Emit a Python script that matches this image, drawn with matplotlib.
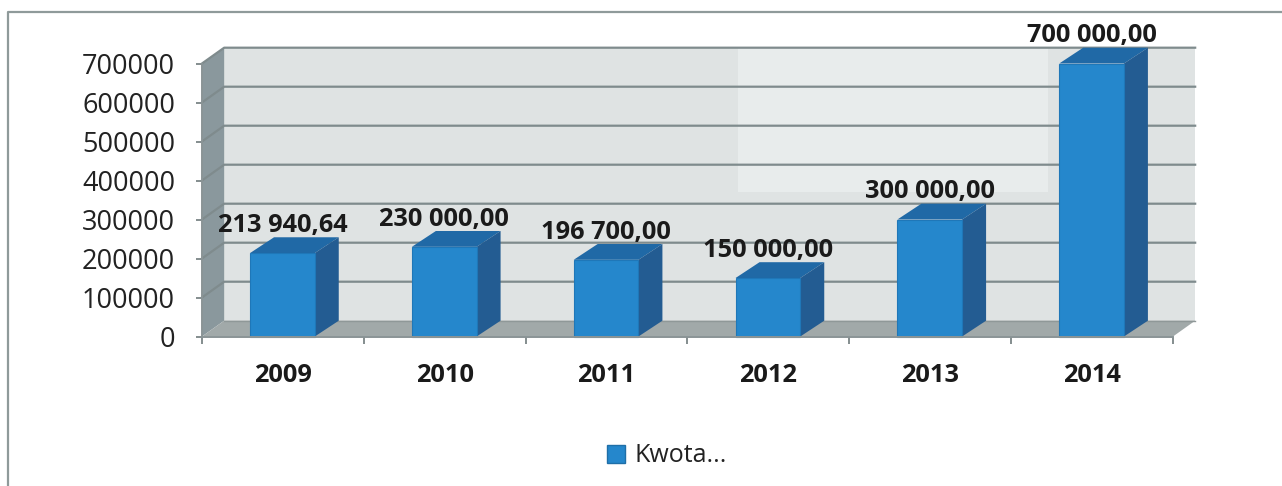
import matplotlib
matplotlib.use("Agg")
from matplotlib import pyplot as plt
from matplotlib.lines import Line2D
from matplotlib.patches import Patch, Polygon, Rectangle

years = ["2009", "2010", "2011", "2012", "2013", "2014"]
kwota = [213940.64, 230000, 196700, 150000, 300000, 700000]
bar_labels = ["213 940,64", "230 000,00", "196 700,00", "150 000,00", "300 000,00", "700 000,00"]
y_ticks = [0, 100000, 200000, 300000, 400000, 500000, 600000, 700000]
series_name = "Kwota..."

plt.rcParams["font.family"] = ["Open Sans", "DejaVu Sans"]

W, H = 1282, 486
fig = plt.figure(figsize=(W / 100, H / 100), dpi=100)
ax = fig.add_axes([202 / W, (H - 336.5) / H, 971 / W, 273 / H])
ax.set_xlim(0, 6)
ax.set_ylim(0, 700000)
ax.patch.set_visible(False)

# depth of the fake 3d box, in data units
dx = 0.137
dy = 40500
bar_w = 0.40
bar_dx = 0.148

GRID = "#7f8b8d"
WALL = "#dfe3e3"
SIDE = "#8a989d"
FLOOR = "#a1a9a9"
FRONT = "#2587cc"
TOP = "#2069a6"
RIGHT = "#235c92"


def poly(pts, color, z):
    ax.add_patch(Polygon(pts, closed=True, fc=color, ec="none", zorder=z, clip_on=False))


top = y_ticks[-1]
poly([(dx, dy), (6 + dx, dy), (6 + dx, top + dy), (dx, top + dy)], WALL, 1)
poly([(0, 0), (dx, dy), (dx, top + dy), (0, top)], SIDE, 1)
poly([(0, 0), (6, 0), (6 + dx, dy), (dx, dy)], FLOOR, 3)

# lighter patch on the back wall
ax.add_patch(Rectangle((3.31, 370000), 1.915, 370500, fc="#e8ecec", ec="none", zorder=1.5, clip_on=False))

for v in y_ticks[1:]:
    ax.plot([0, dx, 6 + dx], [v, v + dy, v + dy], color=GRID, lw=1.6, zorder=2, clip_on=False)
ax.plot([dx, 6 + dx], [dy, dy], color="#8f9898", lw=1.0, zorder=3, clip_on=False)

centers = [i + 0.497 for i in range(len(years))]
ax.bar(centers, kwota, width=bar_w, color=FRONT, edgecolor="#1f77b8", linewidth=0.8, zorder=5, clip_on=False)
for c, v, lab in zip(centers, kwota, bar_labels):
    left = c - bar_w / 2
    right = c + bar_w / 2
    poly([(left, v), (right, v), (right + bar_dx, v + dy), (left + bar_dx, v + dy)], TOP, 4.5)
    poly([(right, 0), (right + bar_dx, dy), (right + bar_dx, v + dy), (right, v)], RIGHT, 4.5)
    ax.annotate(lab, (c, v), xytext=(0, 20), textcoords="offset points", ha="center", va="center",
                fontsize=18.3, fontweight="bold", color="#1a1a1a", zorder=8, annotation_clip=False)

for s in ["top", "right"]:
    ax.spines[s].set_visible(False)
for s in ["left", "bottom"]:
    ax.spines[s].set_color("#8a9496")
    ax.spines[s].set_linewidth(1.4)
    ax.spines[s].set_zorder(6)

ax.set_yticks(y_ticks)
ax.set_yticklabels([str(v) for v in y_ticks], fontsize=19.5, color="#222222")
ax.tick_params(axis="y", length=4.5, width=1.2, color="#6f7a7c", pad=15)
ax.set_xticks(range(7))
ax.set_xticklabels([])
ax.tick_params(axis="x", which="major", length=5, width=1.2, color="#6f7a7c")
ax.set_xticks([i + 0.5 for i in range(6)], minor=True)
ax.set_xticklabels(years, minor=True, fontsize=18.3, fontweight="bold", color="#1a1a1a")
ax.tick_params(axis="x", which="minor", length=0, pad=19)

handle = Patch(fc=FRONT, ec="#1f6fa8", lw=1)
fig.legend([handle], [series_name], loc="center", bbox_to_anchor=(667 / W, 1 - 456 / H), frameon=False,
           fontsize=18, handlelength=0.72, handleheight=0.72, handletextpad=0.4, labelcolor="#222222")

# outer frame of the chart
fig.add_artist(Line2D([8 / W, 8 / W, 1], [0, 1 - 12 / H, 1 - 12 / H], color="#8f9a9a", lw=1.6))

fig.savefig("out.png", dpi=100)
